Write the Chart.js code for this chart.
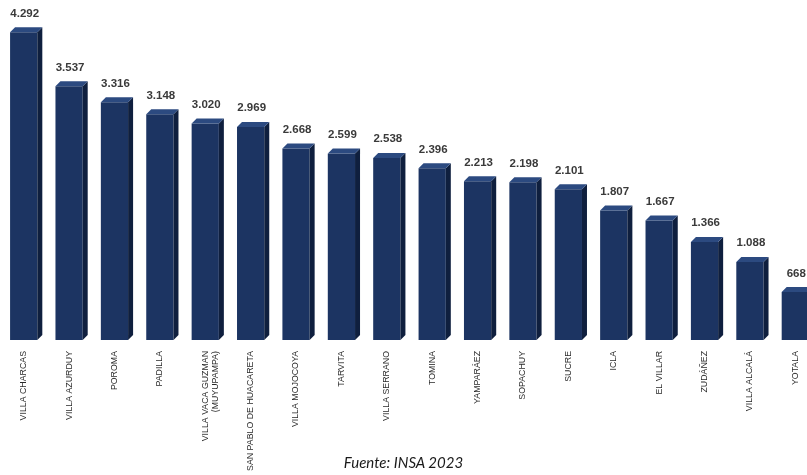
<!DOCTYPE html>
<html>
<head>
<meta charset="utf-8">
<script src="https://cdn.jsdelivr.net/npm/chart.js@4.4.0/dist/chart.umd.min.js"></script>
<style>
  html, body { margin: 0; padding: 0; background: #fff; overflow: hidden; }
  #wrap { position: relative; width: 820px; height: 475px; }
  #fuente {
    position: absolute; left: 0; width: 807px; top: 453px; text-align: center;
    font-family: Lato, 'Open Sans', sans-serif; font-style: italic; font-size: 15px; color: #1a1a1a;
  }
</style>
</head>
<body>
<div id="wrap">
  <canvas id="chart" width="820" height="475"></canvas>
  <div id="fuente">Fuente: INSA 2023</div>
</div>
<script>
// Municipios
const municipios = ['VILLA CHARCAS', 'VILLA AZURDUY', 'POROMA', 'PADILLA',
    ['VILLA VACA GUZMAN', '(MUYUPAMPA)'], 'SAN PABLO DE HUACARETA', 'VILLA MOJOCOYA',
    'TARVITA', 'VILLA SERRANO', 'TOMINA', 'YAMPARÁEZ', 'SOPACHUY', 'SUCRE', 'ICLA',
    'EL VILLAR', 'ZUDÁÑEZ', 'VILLA ALCALÁ', 'YOTALA'];
// Valores
const valores = [4292, 3537, 3316, 3148, 3020, 2969, 2668, 2599, 2538, 2396, 2213, 2198,
    2101, 1807, 1667, 1366, 1088, 668];

const colorFrente = '#1c3462';
const colorLado = '#0f1f3e';
const colorTope = '#2c4a80';
const prof = 5;

function formato(v) {
    return v.toLocaleString('en-US').replace(/,/g, '.');
}

// Efecto 3D y etiquetas
const barras3D = {
    id: 'barras3D',
    afterDatasetsDraw(chart) {
        const ctx = chart.ctx;
        const meta = chart.getDatasetMeta(0);
        meta.data.forEach((bar, i) => {
            const w = bar.width;
            const left = bar.x - w / 2;
            const right = bar.x + w / 2;
            const top = bar.y;
            const base = bar.base;
            ctx.save();
            ctx.fillStyle = colorLado;
            ctx.beginPath();
            ctx.moveTo(right, top);
            ctx.lineTo(right + prof, top - prof);
            ctx.lineTo(right + prof, base - prof);
            ctx.lineTo(right, base);
            ctx.closePath();
            ctx.fill();
            ctx.fillStyle = colorTope;
            ctx.beginPath();
            ctx.moveTo(left, top);
            ctx.lineTo(left + prof, top - prof);
            ctx.lineTo(right + prof, top - prof);
            ctx.lineTo(right, top);
            ctx.closePath();
            ctx.fill();

            ctx.fillStyle = '#3a3a3a';
            ctx.font = 'bold 11.5px "Liberation Sans", Arial, sans-serif';
            ctx.textAlign = 'center';
            ctx.textBaseline = 'bottom';
            ctx.fillText(formato(valores[i]), bar.x + 1, top - prof - 8);
            ctx.restore();
        });
    }
};

const ctx = document.getElementById('chart').getContext('2d');
const chart = new Chart(ctx, {
    type: 'bar',
    data: {
        labels: municipios,
        datasets: [{
            data: valores,
            backgroundColor: colorFrente,
            borderWidth: 0,
            barPercentage: 0.6,
            categoryPercentage: 1
        }]
    },
    options: {
        responsive: false,
        animation: false,
        layout: { padding: { left: 1, right: 2, top: 0, bottom: 0 } },
        plugins: {
            legend: { display: false },
            tooltip: { enabled: false }
        },
        scales: {
            x: {
                grid: { display: false, drawTicks: false },
                border: { display: false },
                ticks: {
                    autoSkip: false,
                    maxRotation: 90,
                    minRotation: 90,
                    padding: 11,
                    color: '#2a2a2a',
                    font: { family: '"Liberation Sans", Arial, sans-serif', size: 8.8 }
                },
                afterFit: function(scale) {
                    scale.height = 135;
                }
            },
            y: {
                display: false,
                min: 0,
                max: 4740
            }
        }
    },
    plugins: [barras3D]
});
</script>
</body>
</html>
